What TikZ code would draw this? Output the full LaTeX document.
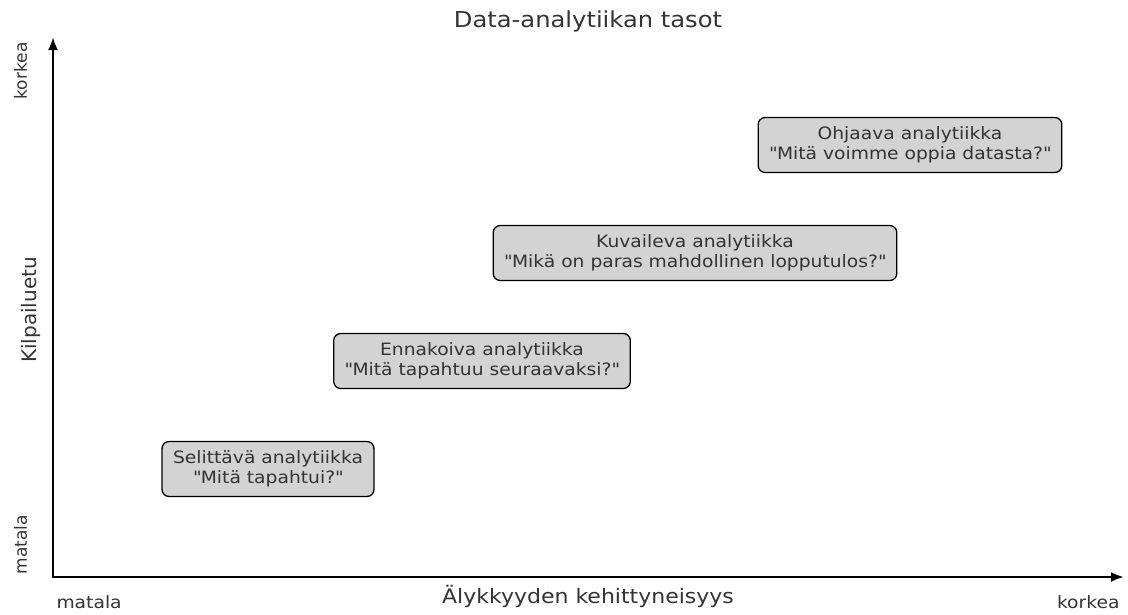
\documentclass[tikz,border=0pt]{standalone}
\usepackage{fontspec}
\setmainfont{DejaVu Sans}[FakeStretch=1.1]
\newfontfamily\upfont{DejaVu Sans}
\usetikzlibrary{arrows.meta}
\definecolor{txtgray}{HTML}{333333}
\definecolor{boxgray}{HTML}{D3D3D3}
\newcommand{\dq}{\textquotedbl}

\begin{document}
\begin{tikzpicture}[x=1pt,y=-1pt,
    every node/.style={text=txtgray},
    levelbox/.style={draw=black, fill=boxgray, rounded corners=7pt, line width=1.3pt,
      align=center, font=\fontsize{17}{20}\selectfont, minimum height=55pt, inner xsep=11pt},
    axisline/.style={line width=2.5pt, {Latex[length=13pt,width=10pt]}-{Latex[length=13pt,width=10pt]}},
    ticklabel/.style={font=\fontsize{17}{20}\selectfont},
    uplabel/.style={font=\upfont\fontsize{17}{20}\selectfont, rotate=90}]
    \useasboundingbox (0,0) rectangle (1128,614);

    \node[anchor=base, font=\fontsize{22}{26}\selectfont] (title) at (588,27) {Data-analytiikan tasot};

    \coordinate (origin) at (53,577);
    \coordinate (ytop) at (53,37);
    \coordinate (xend) at (1124,577);
    \draw[axisline] (ytop) -- (origin) -- (xend);

    \node[anchor=base, font=\fontsize{20}{24}\selectfont] (xlabel) at (588,603) {Älykkyyden kehittyneisyys};
    \node[anchor=base, rotate=90, font=\upfont\fontsize{20}{24}\selectfont] (ylabel) at (36,310) {Kilpailuetu};

    \node[ticklabel, anchor=base west] (xlow) at (53,608) {matala};
    \node[ticklabel, anchor=base east] (xhigh) at (1123,608) {korkea};
    \node[uplabel, anchor=base west] (ylow) at (27,578) {matala};
    \node[uplabel, anchor=base east] (yhigh) at (27,39) {korkea};

    \node[levelbox] (Selit) at (268,469) {Selittävä analytiikka\\\dq Mitä tapahtui?\dq};
    \node[levelbox] (Ennak) at (482,361) {Ennakoiva analytiikka\\\dq Mitä tapahtuu seuraavaksi?\dq};
    \node[levelbox] (Kuvail) at (695,253) {Kuvaileva analytiikka\\\dq Mikä on paras mahdollinen lopputulos?\dq};
    \node[levelbox] (Ohjaa) at (910,145) {Ohjaava analytiikka\\\dq Mitä voimme oppia datasta?\dq};
  \end{tikzpicture}
\end{document}
